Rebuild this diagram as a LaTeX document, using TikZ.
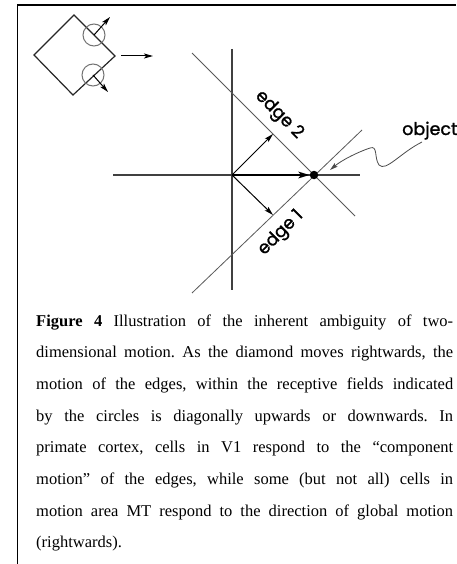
\documentclass[tikz,border=0pt]{standalone}
\usepackage{fontspec}
\setmainfont{Liberation Serif}
\newfontfamily\labfont[FakeBold=1.3]{Poppins}
\usetikzlibrary{arrows.meta}
\begin{document}
\frenchspacing
\begin{tikzpicture}[x=1pt,y=-1pt,
  frameline/.style={line width=1.3pt, black},
  diam/.style={line width=1.2pt, black!85, line join=miter},
  rfield/.style={circle, draw=black!55, line width=1pt, minimum size=22pt, inner sep=0pt},
  arr/.style={-{Stealth[length=9pt,width=5pt,inset=2pt]}, line width=1pt, black},
  axisline/.style={line width=1.2pt, black!75},
  edgeline/.style={line width=0.8pt, black!65},
  lab/.style={font=\labfont\fontsize{17.5}{20}\selectfont, inner sep=0pt},
  capline/.style={anchor=base west, inner sep=0pt, font=\fontsize{16.5}{20}\selectfont}]
\useasboundingbox (0,0) rectangle (456,564);
\fill[white] (0,0) rectangle (456,564);
% frame
\draw[frameline] (17.5,564) -- (17.5,5) -- (456,5);
% diamond
\coordinate (dL) at (34,55);
\coordinate (dT) at (74,15);
\coordinate (dR) at (115,56);
\coordinate (dB) at (73,95);
\draw[diam] (dL) -- (dT) -- (dR) -- (dB) -- cycle;
\node[rfield] (rf1) at (94,35) {};
\node[rfield] (rf2) at (93,75) {};
\coordinate (t1) at (110,17);
\coordinate (t2) at (108,92);
\draw[arr] (rf1.center) -- (t1);
\draw[arr] (rf2.center) -- (t2);
\coordinate (m1) at (121,56);
\coordinate (m2) at (153,56);
\draw[arr] (m1) -- (m2);
% axes
\coordinate (vT) at (232,49);
\coordinate (vB) at (232,290);
\coordinate (hL) at (113,175);
\coordinate (hR) at (360,175);
\draw[axisline] (vT) -- (vB);
\draw[axisline] (hL) -- (hR);
% edges
\coordinate (e2a) at (192,53);
\coordinate (e2b) at (355,216);
\coordinate (e1a) at (192,293);
\coordinate (e1b) at (362,130);
\draw[edgeline] (e2a) -- (e2b);
\draw[edgeline] (e1a) -- (e1b);
\node[lab, rotate=-45] (lab2) at (279,115) {edge 2};
\node[lab, rotate=45] (lab1) at (281,233) {edge 1};
% origin and object
\coordinate (O) at (232,175);
\node[circle, fill=black, inner sep=0pt, minimum size=8.5pt] (P) at (314,175) {};
\draw[line width=2.2pt, -{Stealth[length=11pt,width=6.5pt,inset=2.5pt]}] (O) -- (P.west);
\coordinate (f2) at (273,134);
\coordinate (f1) at (273,215);
\draw[arr] (O) -- (f2);
\draw[arr] (O) -- (f1);
\node[lab, anchor=base west] (obj) at (402,135) {object};
\coordinate (c0) at (422,142);
\coordinate (c1) at (379,165);
\coordinate (c2) at (370,148);
\coordinate (c3) at (330,170);
\draw[line width=0.8pt, black!70, -{Stealth[length=8pt,width=4.5pt,inset=1.5pt]}]
  (c0) .. controls (400,153) and (386,172) .. (c1)
  .. controls (374,158) and (378,145) .. (c2)
  .. controls (358,152) and (342,160) .. (c3);
% caption
\node[capline] (cap1) at (36,326.0) {\makebox[417pt][s]{\textbf{Figure 4} Illustration of the inherent ambiguity of two-}};
\node[capline] (cap2) at (36,357.7) {\makebox[417pt][s]{dimensional motion. As the diamond moves rightwards, the}};
\node[capline] (cap3) at (36,389.4) {\makebox[417pt][s]{motion of the edges, within the receptive fields indicated}};
\node[capline] (cap4) at (36,421.1) {\makebox[417pt][s]{by the circles is diagonally upwards or downwards. In}};
\node[capline] (cap5) at (36,452.8) {\makebox[417pt][s]{primate cortex, cells in V1 respond to the “component}};
\node[capline] (cap6) at (36,484.5) {\makebox[417pt][s]{motion” of the edges, while some (but not all) cells in}};
\node[capline] (cap7) at (36,516.2) {\makebox[417pt][s]{motion area MT respond to the direction of global motion}};
\node[capline] (cap8) at (36,547.9) {(rightwards).};
\end{tikzpicture}
\end{document}
